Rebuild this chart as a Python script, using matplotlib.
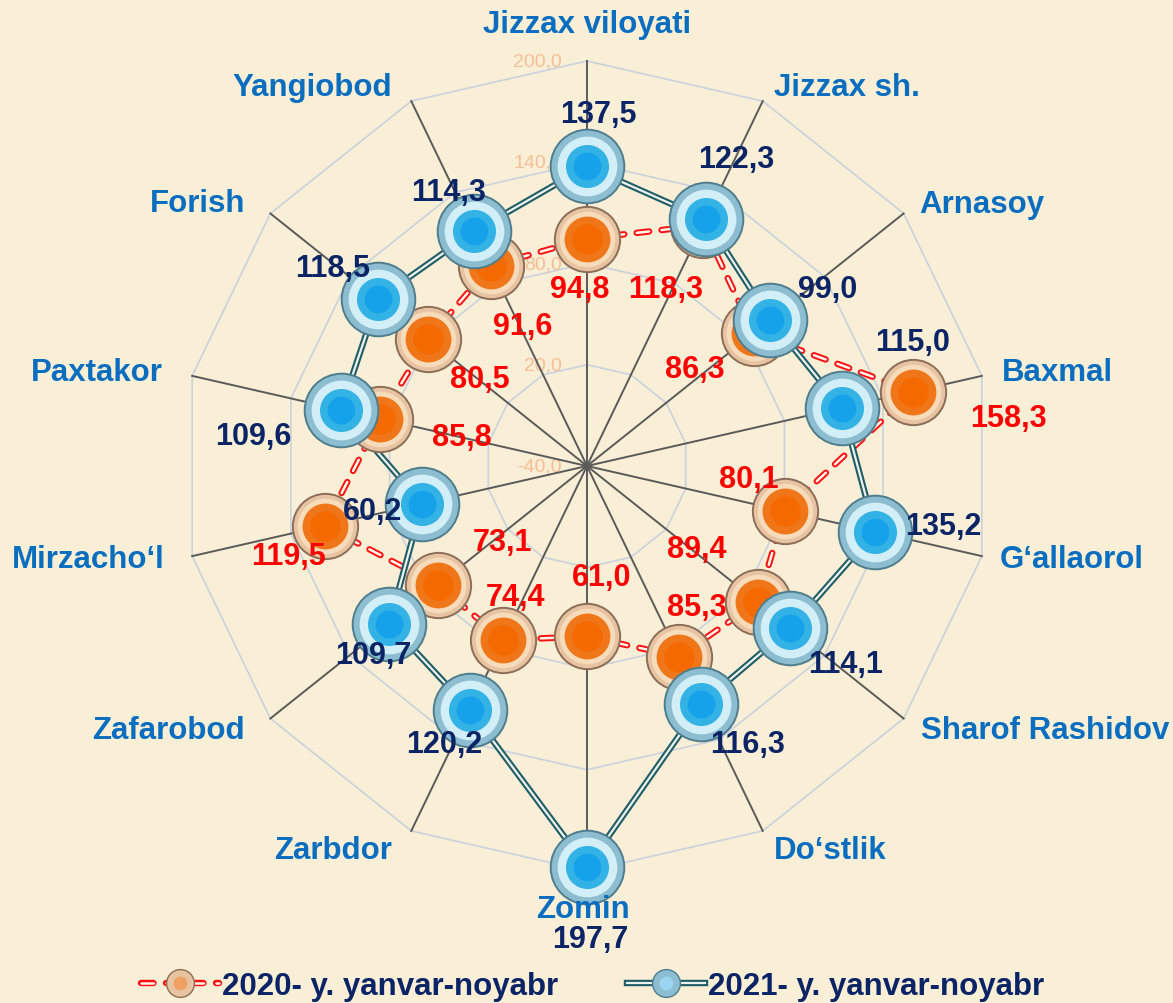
import numpy as np
import matplotlib.pyplot as plt
from matplotlib.lines import Line2D
from matplotlib.legend_handler import HandlerTuple

plt.rcParams['font.family'] = ['Liberation Sans', 'DejaVu Sans']
plt.rcParams['lines.scale_dashes'] = False

# data
categories = ['Jizzax viloyati', 'Jizzax sh.', 'Arnasoy', 'Baxmal', 'G\u2018allaorol',
              'Sharof Rashidov', 'Do\u2018stlik', 'Zomin', 'Zarbdor', 'Zafarobod',
              'Mirzacho\u2018l', 'Paxtakor', 'Forish', 'Yangiobod']
y2020 = [94.8, 118.3, 86.3, 158.3, 80.1, 89.4, 85.3, 61.0, 74.4, 73.1, 119.5, 85.8, 80.5, 91.6]
y2021 = [137.5, 122.3, 99.0, 115.0, 135.2, 114.1, 116.3, 197.7, 120.2, 109.7, 60.2, 109.6, 118.5, 114.3]
r_ticks = [-40, 20, 80, 140, 200]
legend_labels = ['2020- y. yanvar-noyabr', '2021- y. yanvar-noyabr']

# label offsets (pixels) from each point
off2020 = [(-7, -50), (-37, -64), (-59, -36), (95, -26), (-36, 32), (-61, 53), (18, 50),
           (15, 59), (12, 43), (65, 43), (-36, -30), (82, -18), (52, -40), (32, -60)]
off2021 = [(11, 52), (30, 60), (57, 31), (71, 66), (68, 6), (55, -36), (46, -40),
           (3, -72), (-25, -34), (-16, -31), (-50, -7), (-88, -26), (-45, 31), (-25, 39)]
# category label centres (pixels from top-left)
cat_pos = [(587, 25), (847, 88), (982, 205), (1057, 373), (1072, 560), (1045, 731),
           (830, 851), (583, 910), (333, 851), (168, 731), (88, 560), (97, 373),
           (198, 204), (312, 88)]

bg = '#F9EED6'
W, H = 1173, 1004
fig = plt.figure(figsize=(W / 100, H / 100), dpi=100)
fig.patch.set_facecolor(bg)
cx, cy, R = 587, 467, 405
ax = fig.add_axes([(cx - R) / W, (H - cy - R) / H, 2 * R / W, 2 * R / H], projection='polar')
ax.set_theta_zero_location('N')
ax.set_theta_direction(-1)
ax.set_ylim(-40, 200)
ax.set_facecolor('none')
ax.grid(False)
ax.spines['polar'].set_visible(False)
ax.set_xticks([])
ax.set_yticks([])

n = len(categories)
theta = np.arange(n) * 2 * np.pi / n
tc = np.append(theta, theta[0])

# polygon grid
for v in r_ticks[1:]:
    ax.plot(tc, [v] * (n + 1), color='#C9D2DE', lw=1.2, zorder=1, clip_on=False)
for v in r_ticks:
    ax.annotate(f'{v:.1f}'.replace('.', ','), xy=(0, v), xytext=(-25, 0),
                textcoords='offset pixels', ha='right', va='center',
                fontsize=14, color='#F6BE95', annotation_clip=False, zorder=1)
for t in theta:
    ax.plot([t, t], [-40, 200], color='#5A5A5A', lw=1.4, zorder=2, clip_on=False)

v20 = np.append(y2020, y2020[0])
v21 = np.append(y2021, y2021[0])

# 2020 line: red outlined dashes
ax.plot(tc, v20, color='#FF1010', lw=4.6, dashes=(9, 9), dash_capstyle='round', zorder=3, clip_on=False)
ax.plot(tc, v20, color='#FFF6EC', lw=1.8, dashes=(9, 9), dash_capstyle='round', zorder=3.1, clip_on=False)
# 2021 line: double line
ax.plot(tc, v21, color='#1E5C68', lw=4.6, zorder=3.2, clip_on=False)
ax.plot(tc, v21, color='#EEF2EA', lw=1.6, zorder=3.3, clip_on=False)

org_layers = [(47, '#E7C3A2', '#8C6E58', 1.4), (40, '#F7DCBB', 'none', 0),
              (33, '#F0761A', 'none', 0), (22, '#F46A00', 'none', 0)]
blu_layers = [(53, '#8DBDD0', '#4E7E8E', 1.4), (43, '#D2EEF6', 'none', 0),
              (31, '#33B2E6', 'none', 0), (20, '#16A2EA', 'none', 0)]

for i, (ms, fc, ec, mew) in enumerate(org_layers):
    ax.plot(theta, y2020, 'o', ms=ms, mfc=fc, mec=ec, mew=mew, ls='none', zorder=4 + i * 0.01, clip_on=False)
for i, (ms, fc, ec, mew) in enumerate(blu_layers):
    ax.plot(theta, y2021, 'o', ms=ms, mfc=fc, mec=ec, mew=mew, ls='none', zorder=5 + i * 0.01, clip_on=False)

for t, v, o in zip(theta, y2020, off2020):
    ax.annotate(f'{v:.1f}'.replace('.', ','), xy=(t, v), xytext=o, textcoords='offset pixels',
                ha='center', va='center', fontsize=22, fontweight='bold', color='#FF0000',
                annotation_clip=False, zorder=7)
for t, v, o in zip(theta, y2021, off2021):
    ax.annotate(f'{v:.1f}'.replace('.', ','), xy=(t, v), xytext=o, textcoords='offset pixels',
                ha='center', va='center', fontsize=22, fontweight='bold', color='#0B2466',
                annotation_clip=False, zorder=7)

for name, (px, py) in zip(categories, cat_pos):
    fig.text(px / W, 1 - py / H, name, ha='center', va='center', fontsize=22.5,
             fontweight='bold', color='#0A6EC0', zorder=8)

# legend
h20 = (Line2D([], [], color='#FF1010', lw=4.6, dashes=(9, 9), dash_capstyle='round'),
       Line2D([], [], color='#FFF6EC', lw=1.8, dashes=(9, 9), dash_capstyle='round'),
       Line2D([], [], marker='o', ms=20, mfc='#E7C3A2', mec='#8C6E58', ls='none'),
       Line2D([], [], marker='o', ms=10, mfc='#F0A060', mec='none', ls='none'))
h21 = (Line2D([], [], color='#1E5C68', lw=4.6),
       Line2D([], [], color='#EEF2EA', lw=1.6),
       Line2D([], [], marker='o', ms=20, mfc='#8DBDD0', mec='#4E7E8E', ls='none'),
       Line2D([], [], marker='o', ms=10, mfc='#9AD4F0', mec='none', ls='none'))
leg = fig.legend([h20, h21], legend_labels, handler_map={tuple: HandlerTuple(ndivide=1, pad=0)},
                 loc='center', bbox_to_anchor=(0.505, 0.017), ncol=2, frameon=False,
                 handlelength=2.5, columnspacing=2.2, handletextpad=0.1,
                 prop={'weight': 'bold', 'size': 22.5})
for txt in leg.get_texts():
    txt.set_color('#0B2466')

fig.savefig('out.png', dpi=100, facecolor=bg)
